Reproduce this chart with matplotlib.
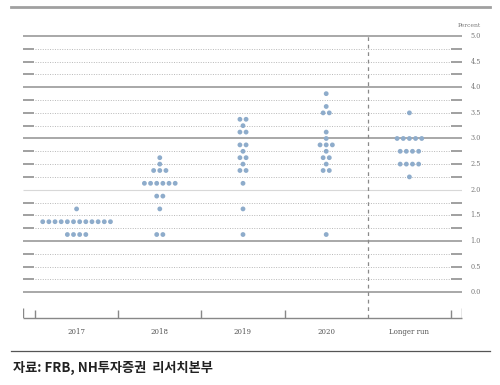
import matplotlib
matplotlib.use("Agg")
import matplotlib.pyplot as plt
from matplotlib.lines import Line2D
import numpy as np

plt.rcParams['font.family'] = ['Noto Sans CJK KR', 'DejaVu Sans']

categories = ["2017", "2018", "2019", "2020", "Longer run"]
# (rate, number of participants) per column
dots_2017 = [(1.625, 1), (1.375, 12), (1.125, 4)]
dots_2018 = [(2.625, 1), (2.5, 1), (2.375, 3), (2.125, 6), (1.875, 2), (1.625, 1), (1.125, 2)]
dots_2019 = [(3.375, 2), (3.25, 1), (3.125, 2), (2.875, 2), (2.75, 1), (2.625, 2),
             (2.5, 1), (2.375, 2), (2.125, 1), (1.625, 1), (1.125, 1)]
dots_2020 = [(3.875, 1), (3.625, 1), (3.5, 2), (3.125, 1), (3.0, 1), (2.875, 3),
             (2.75, 1), (2.625, 2), (2.5, 1), (2.375, 2), (1.125, 1)]
dots_long = [(3.5, 1), (3.0, 5), (2.75, 4), (2.5, 4), (2.25, 1)]
all_dots = [dots_2017, dots_2018, dots_2019, dots_2020, dots_long]
ytick_labels = ["0.0", "0.5", "1.0", "1.5", "2.0", "2.5", "3.0", "3.5", "4.0", "4.5", "5.0"]

fig = plt.figure(figsize=(5.0, 3.85), dpi=100)
fig.patch.set_facecolor("white")
ax = fig.add_axes([0.046, 0.174, 0.878, 0.7377])
x_left, x_right = -0.644, 4.632
ax.set_xlim(x_left, x_right)
ax.set_ylim(-0.505, 5.04)
for s in ax.spines.values():
    s.set_visible(False)
ax.set_xticks([]); ax.set_yticks([])

grid_c = "#9a9a9a"
# horizontal grid
for i in range(0, 21):
    y = i * 0.25
    if i % 4 == 0:
        c = "#d8d8d8" if i == 8 else grid_c
        lw = 0.8 if i == 8 else 1.2
        ax.hlines(y, x_left, x_right, color=c, lw=lw, zorder=1)
    else:
        ax.hlines(y, -0.5, 4.5, color="#b8b8b8", lw=0.7, linestyles=(0, (1, 1.5)), zorder=1)
        ax.hlines(y, x_left, -0.51, color="#999999", lw=1.3, zorder=1)
        ax.hlines(y, 4.5, x_right, color="#999999", lw=1.3, zorder=1)

# right labels
for i, lab in enumerate(ytick_labels):
    ax.text(4.735, i * 0.5, lab, ha="left", va="center", fontsize=4.7,
            family="DejaVu Serif", color="#777777")
ax.text(4.72, 5.2, "Percent", ha="center", va="center", fontsize=4.3,
        family="DejaVu Serif", color="#777777", clip_on=False)

# x axis
y0 = -0.505
ax.hlines(y0, x_left, x_right, color="#888888", lw=1.0, clip_on=False)
for xb in [-0.5, 0.5, 1.5, 2.5, 4.5]:
    ax.vlines(xb, y0, y0 + 0.15, color="#888888", lw=1.0)
for xb in [x_left, x_right]:
    ax.vlines(xb, y0, y0 + 0.2, color="#888888", lw=1.0)
ax.vlines(3.5, y0, 5.0, color="#8a8a8a", lw=0.9, linestyles=(0, (3, 3)))
for i, c in enumerate(categories):
    ax.text(i, y0 - 0.27, c, ha="center", va="center", fontsize=5,
            family="DejaVu Serif", color="#555555", clip_on=False)

# dots
sp = 0.074
for i, col in enumerate(all_dots):
    for val, n in col:
        xs = i + (np.arange(n) - (n - 1) / 2) * sp
        ax.scatter(xs, [val] * n, s=12, color="#8eaccb", edgecolors="none", zorder=3)

# decorative separators and source
fig.add_artist(Line2D([0.022, 0.98], [1 - 7 / 385, 1 - 7 / 385], transform=fig.transFigure,
                      color="#a0a0a0", lw=2.0))
fig.add_artist(Line2D([0.022, 0.98], [1 - 351 / 385, 1 - 351 / 385], transform=fig.transFigure,
                      color="#555555", lw=0.9))
fig.text(0.026, 1 - 368 / 385, "자료: FRB, NH투자증권  리서치본부", ha="left", va="center",
         fontsize=9.5, color="#222222", fontweight="bold")

fig.savefig("out.png", dpi=100)
